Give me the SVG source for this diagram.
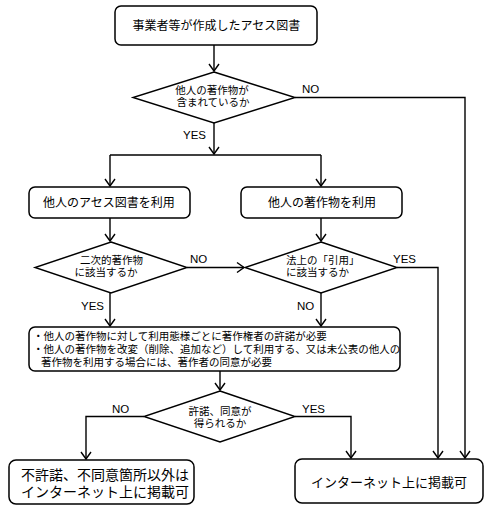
<svg xmlns="http://www.w3.org/2000/svg" width="491" height="511" viewBox="0 0 491 511">
<style>
.box{fill:#fff;stroke:#000;stroke-width:1.5}
.dia{fill:#fff;stroke:#000;stroke-width:1.4}
.ln{fill:none;stroke:#000;stroke-width:1.4}
text{font-family:"Liberation Sans","Noto Sans CJK JP",sans-serif;fill:#000}
.t12{font-size:12px;text-anchor:middle}
.t105{font-size:10.5px}
.c{text-anchor:middle}
.lbl{font-size:11.5px}
</style>
<defs>
<marker id="ah" markerUnits="userSpaceOnUse" markerWidth="14" markerHeight="14" refX="0" refY="0" viewBox="-8 -7 9 14" orient="auto" overflow="visible">
<path d="M-7,-5 L0,0 L-7,5" fill="none" stroke="#000" stroke-width="1.4"/>
</marker>
</defs>
<rect width="491" height="511" fill="#fff"/>
<g id="connectors">
<path class="ln" d="M214,45 V71" marker-end="url(#ah)"/>
<path class="ln" d="M295,97.5 H465 V458" marker-end="url(#ah)"/>
<path class="ln" d="M214,123 V154" marker-end="url(#ah)"/>
<path class="ln" d="M110,155 H321"/>
<path class="ln" d="M110,155 V186" marker-end="url(#ah)"/>
<path class="ln" d="M321,155 V186" marker-end="url(#ah)"/>
<path class="ln" d="M110,218 V241" marker-end="url(#ah)"/>
<path class="ln" d="M321,218 V241" marker-end="url(#ah)"/>
<path class="ln" d="M187,267.5 H244" marker-end="url(#ah)"/>
<path class="ln" d="M397,267.5 H438 V458" marker-end="url(#ah)"/>
<path class="ln" d="M110,293 V326" marker-end="url(#ah)"/>
<path class="ln" d="M321,293 V326" marker-end="url(#ah)"/>
<path class="ln" d="M220,371 V390" marker-end="url(#ah)"/>
<path class="ln" d="M144,416.5 H86 V459" marker-end="url(#ah)"/>
<path class="ln" d="M295,416.5 H351 V458" marker-end="url(#ah)"/>
<text class="lbl" x="302" y="93">NO</text>
<text class="lbl" x="183" y="139">YES</text>
<text class="lbl" x="190" y="263">NO</text>
<text class="lbl" x="393" y="263">YES</text>
<text class="lbl" x="81" y="310">YES</text>
<text class="lbl" x="297" y="310">NO</text>
<text class="lbl" x="112" y="413">NO</text>
<text class="lbl" x="302" y="413">YES</text>
</g>
<g id="start">
<rect class="box" x="115" y="6" width="202" height="39" rx="6"/>
<text class="t12" x="216.5" y="30">事業者等が作成したアセス図書</text>
</g>
<g id="q1">
<polygon class="dia" points="214,72 295,97.5 214,123 133,97.5"/>
<text class="t105 c" x="212" y="94">他人の著作物が</text>
<text class="t105 c" x="213" y="106">含まれているか</text>
</g>
<g id="useAssess">
<rect class="box" x="29" y="187" width="161" height="31" rx="6"/>
<text class="t12" x="109" y="207">他人のアセス図書を利用</text>
</g>
<g id="useWork">
<rect class="box" x="241" y="187" width="161" height="31" rx="6"/>
<text class="t12" x="322" y="207">他人の著作物を利用</text>
</g>
<g id="q2">
<polygon class="dia" points="111,242 187,267.5 111,293 35,267.5"/>
<text class="t105 c" x="111.5" y="264">二次的著作物</text>
<text class="t105 c" x="106" y="276">に該当するか</text>
</g>
<g id="q3">
<polygon class="dia" points="321,242 397,267.5 321,293 245,267.5"/>
<text class="t105" x="286" y="264">法上の「引用」</text>
<text class="t105" x="286" y="276">に該当するか</text>
</g>
<g id="permission">
<rect class="box" x="29" y="327" width="371" height="44" rx="6"/>
<text class="t105" x="33" y="340">・他人の著作物に対して利用態様ごとに著作権者の許諾が必要</text>
<text class="t105" x="33" y="353">・他人の著作物を改変（削除、追加など）して利用する、又は未公表の他人の</text>
<text class="t105" x="41" y="366">著作物を利用する場合には、著作者の同意が必要</text>
</g>
<g id="q4">
<polygon class="dia" points="220,391 295,416.5 220,442 144,416.5"/>
<text class="t105 c" x="220" y="415">許諾、同意が</text>
<text class="t105 c" x="220" y="427">得られるか</text>
</g>
<g id="partial">
<rect class="box" x="9" y="460" width="185" height="44" rx="7"/>
<text x="21" y="480" font-size="14">不許諾、不同意箇所以外は</text>
<text x="21" y="497" font-size="14">インターネット上に掲載可</text>
</g>
<g id="ok">
<rect class="box" x="295" y="459" width="188" height="44" rx="7"/>
<text class="c" x="389" y="487" font-size="13">インターネット上に掲載可</text>
</g>
</svg>
